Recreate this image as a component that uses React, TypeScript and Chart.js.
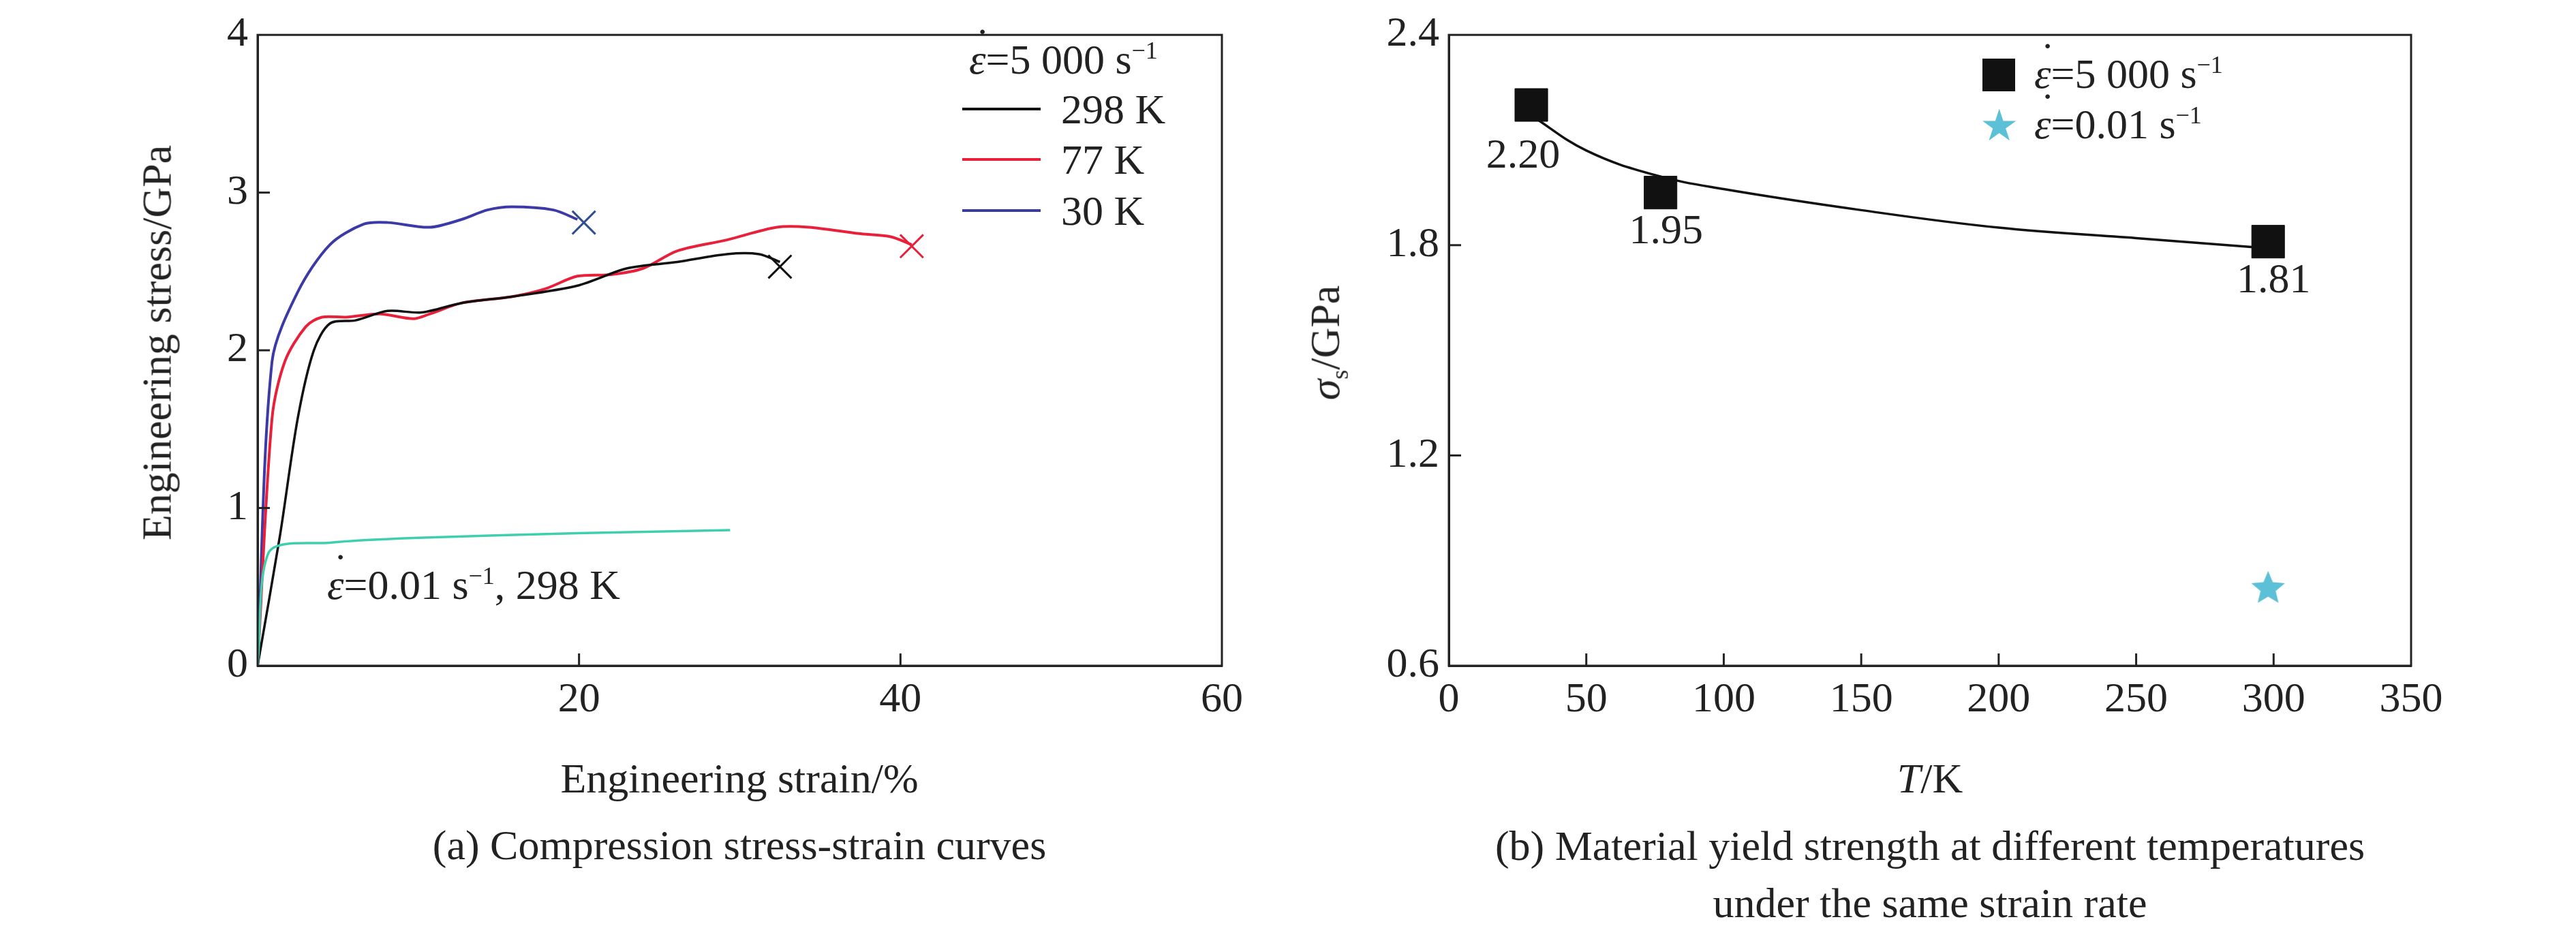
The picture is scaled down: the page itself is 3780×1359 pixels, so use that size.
import React, { useEffect, useRef } from "react";
import { Chart, registerables } from "chart.js";
Chart.register(...registerables);

// Panel (a) data
const strain30K = [0, 0.9, 2.5, 4.5, 6.6, 8.1, 10.7, 12.7, 14.3, 15.8, 18.4, 19.9];
const stress30K = [0, 1.93, 2.37, 2.67, 2.8, 2.81, 2.78, 2.83, 2.89, 2.91, 2.89, 2.83];
const strain77K = [0, 0.9, 1.7, 3, 4, 5.5, 7.6, 9.7, 10.7, 12.7, 15.8, 17.9, 19.9, 22, 24, 26.1, 29.2, 32.3, 34.3, 37.4, 39.4, 40.7];
const stress77K = [0, 1.57, 1.93, 2.15, 2.21, 2.21, 2.23, 2.2, 2.23, 2.3, 2.34, 2.39, 2.47, 2.48, 2.52, 2.63, 2.7, 2.78, 2.78, 2.74, 2.72, 2.67];
const strain298K = [0, 1.4, 2.5, 3.5, 4.5, 6.1, 8.1, 10.2, 12.7, 15.8, 19.9, 23, 26.1, 29.2, 31.2, 32.5];
const stress298K = [0, 0.83, 1.57, 2.0, 2.17, 2.19, 2.25, 2.24, 2.3, 2.34, 2.41, 2.52, 2.56, 2.61, 2.61, 2.56];
const strainQS = [0, 0.7, 4.5, 9.7, 19.9, 29.4];
const stressQS = [0, 0.72, 0.78, 0.81, 0.84, 0.86];
const fractureStrain = [20.3, 40.7, 32.5];
const fractureStress = [2.81, 2.66, 2.53];

// Panel (b) data
const temps = [30, 77, 298];
const yieldDyn = [2.2, 1.95, 1.81];
const yieldLabels = ["2.20", "1.95", "1.81"];
const fitT = [30, 50, 75, 100, 150, 200, 250, 300];
const fitY = [2.17, 2.07, 2.0, 1.96, 1.9, 1.85, 1.82, 1.79];
const quasiT = [298];
const quasiY = [0.82];

const FONT = '"Liberation Serif", "Times New Roman", serif';
const pts = (xs: number[], ys: number[]) => xs.map((x, i) => ({ x, y: ys[i] }));

const frameAndTicks = (skipX: number[], skipY: number[]) => ({
  id: "inward",
  afterDatasetsDraw(chart: any) {
    const { ctx, chartArea: a, scales } = chart;
    ctx.save();
    ctx.strokeStyle = "#222";
    ctx.lineWidth = 3;
    ctx.strokeRect(a.left, a.top, a.right - a.left, a.bottom - a.top);
    scales.x.ticks.forEach((t: any) => {
      if (skipX.includes(t.value)) return;
      const px = scales.x.getPixelForValue(t.value);
      ctx.beginPath(); ctx.moveTo(px, a.bottom); ctx.lineTo(px, a.bottom - 18); ctx.stroke();
    });
    scales.y.ticks.forEach((t: any) => {
      if (skipY.includes(t.value)) return;
      const py = scales.y.getPixelForValue(t.value);
      ctx.beginPath(); ctx.moveTo(a.left, py); ctx.lineTo(a.left + 18, py); ctx.stroke();
    });
    ctx.restore();
  },
});

function makeStar(color: string, r: number) {
  const c = document.createElement("canvas");
  c.width = c.height = r * 2 + 4;
  const g = c.getContext("2d")!;
  g.fillStyle = color;
  g.beginPath();
  for (let i = 0; i < 10; i++) {
    const rad = i % 2 === 0 ? r : r * 0.45;
    const ang = -Math.PI / 2 + (i * Math.PI) / 5;
    const px = r + 2 + rad * Math.cos(ang), py = r + 2 + rad * Math.sin(ang);
    i === 0 ? g.moveTo(px, py) : g.lineTo(px, py);
  }
  g.closePath();
  g.fill();
  return c;
}

const abs = (o: any): React.CSSProperties => ({ position: "absolute", fontFamily: FONT, color: "#222", whiteSpace: "nowrap", ...o });

const EpsDot = () => (
  <span style={{ position: "relative", display: "inline-block" }}>
    <i>ε</i>
    <span style={{ position: "absolute", left: "38%", top: "-0.38em" }}>˙</span>
  </span>
);

export default function App() {
  const refA = useRef<HTMLCanvasElement>(null);
  const refB = useRef<HTMLCanvasElement>(null);

  useEffect(() => {
    const tickFont = { family: FONT, size: 62 };
    const axisCommon = (min: number, max: number, step: number, w: number | null, h: number | null, cb?: any) => ({
      type: "linear",
      min, max,
      grid: { display: false, drawTicks: false },
      border: { display: true, color: "#222", width: 3 },
      ticks: { stepSize: step, font: tickFont, color: "#222", padding: 14, callback: cb },
      afterFit: (s: any) => { if (w !== null) s.width = w; if (h !== null) s.height = h; },
    });
    const chartA = new Chart(refA.current!, {
      type: "scatter",
      data: {
        datasets: [
          { data: pts(strainQS, stressQS), showLine: true, borderColor: "#3fcfae", borderWidth: 3.5, pointRadius: 0, tension: 0.3 },
          { data: pts(strain298K, stress298K), showLine: true, borderColor: "#111", borderWidth: 3.5, pointRadius: 0, tension: 0.3 },
          { data: pts(strain77K, stress77K), showLine: true, borderColor: "#e8203a", borderWidth: 4, pointRadius: 0, tension: 0.3 },
          { data: pts(strain30K, stress30K), showLine: true, borderColor: "#3b3aa6", borderWidth: 4, pointRadius: 0, tension: 0.3 },
          {
            data: pts(fractureStrain, fractureStress), showLine: false, pointStyle: "crossRot", pointRadius: 24,
            borderWidth: 3, pointBorderColor: ["#2f4f8f", "#e8203a", "#111"],
          },
        ] as any,
      },
      options: {
        animation: false, responsive: false, maintainAspectRatio: false,
        layout: { padding: { left: 0, top: 32, right: 107, bottom: 282 } },
        plugins: { legend: { display: false }, tooltip: { enabled: false } },
        scales: {
          x: axisCommon(0, 60, 20, null, 100, (v: number) => (v === 0 ? "" : String(v))) as any,
          y: axisCommon(0, 4, 1, 378, null) as any,
        },
      },
      plugins: [frameAndTicks([0, 60], [0, 4])],
    });

    const star = makeStar("#5cc0d6", 26);
    const labelPlugin = {
      id: "vals",
      afterDatasetsDraw(chart: any) {
        const { ctx, scales } = chart;
        ctx.save();
        ctx.font = `62px ${FONT}`;
        ctx.fillStyle = "#222";
        ctx.textAlign = "center";
        ctx.textBaseline = "middle";
        temps.forEach((t, i) => {
          const px = scales.x.getPixelForValue(t) + (i === 0 ? -12 : 8);
          const py = scales.y.getPixelForValue(yieldDyn[i]) + (i === 0 ? 76 : 58);
          ctx.fillText(yieldLabels[i], px, py);
        });
        ctx.restore();
      },
    };
    const chartB = new Chart(refB.current!, {
      type: "scatter",
      data: {
        datasets: [
          { data: pts(fitT, fitY), showLine: true, borderColor: "#111", borderWidth: 3.5, pointRadius: 0, tension: 0.4 },
          { data: pts(temps, yieldDyn), pointStyle: "rect", pointRadius: 34, backgroundColor: "#111", borderColor: "#111" },
          { data: pts(quasiT, quasiY), pointStyle: star, pointRadius: 26 },
        ] as any,
      },
      options: {
        animation: false, responsive: false, maintainAspectRatio: false,
        layout: { padding: { left: 0, top: 32, right: 1880 - 1638, bottom: 282 } },
        plugins: { legend: { display: false }, tooltip: { enabled: false } },
        scales: {
          x: axisCommon(0, 350, 50, null, 100) as any,
          y: axisCommon(0.6, 2.4, 0.6, 226, null, (v: number) => v.toFixed(1)) as any,
        },
      },
      plugins: [frameAndTicks([0, 350], [0.6, 2.4]), labelPlugin],
    });
    let alive = true;
    if ((document as any).fonts) {
      (document as any).fonts.load('62px "Liberation Serif"').then(() => {
        if (alive) { chartA.update(); chartB.update(); }
      });
    }
    return () => { alive = false; chartA.destroy(); chartB.destroy(); };
  }, []);

  const big = 62;
  const sup = <sup style={{ fontSize: 36 }}>−1</sup>;
  return (
    <div style={{ position: "absolute", left: 0, top: 0, width: 3780, height: 1359, background: "#fff", overflow: "hidden" }}>
      <canvas ref={refA} width={1900} height={1359} style={{ position: "absolute", left: 0, top: 0, width: 1900, height: 1359 }} />
      <canvas ref={refB} width={1880} height={1359} style={{ position: "absolute", left: 1900, top: 0, width: 1880, height: 1359 }} />

      {/* Panel a texts */}
      <div style={abs({ left: 230, top: 503, fontSize: big, transform: "translate(-50%,-50%) rotate(-90deg)" })}>Engineering stress/GPa</div>
      <div style={abs({ left: 1085, top: 1142, fontSize: big, transform: "translate(-50%,-50%)" })}>Engineering strain/%</div>
      <div style={abs({ left: 1085, top: 1240, fontSize: big, transform: "translate(-50%,-50%)" })}>(a) Compression stress-strain curves</div>
      <div style={abs({ left: 1422, top: 87, fontSize: big, transform: "translateY(-50%)" })}><EpsDot />=5 000 s{sup}</div>
      {[["298 K", "#111", 160], ["77 K", "#e8203a", 234], ["30 K", "#3b3aa6", 309]].map(([t, c, y]) => (
        <div key={t as string}>
          <div style={{ position: "absolute", left: 1412, top: (y as number) - 2, width: 115, height: 4, background: c as string }} />
          <div style={abs({ left: 1557, top: y, fontSize: big, transform: "translateY(-50%)" })}>{t}</div>
        </div>
      ))}
      <div style={abs({ left: 480, top: 858, fontSize: big, transform: "translateY(-50%)" })}><EpsDot />=0.01 s{sup}, 298 K</div>

      {/* Panel b texts */}
      <div style={abs({ left: 1948, top: 503, fontSize: big, transform: "translate(-50%,-50%) rotate(-90deg)" })}><i>σ</i><sub style={{ fontSize: 36 }}>s</sub>/GPa</div>
      <div style={abs({ left: 2832, top: 1142, fontSize: big, transform: "translate(-50%,-50%)" })}><i>T</i>/K</div>
      <div style={abs({ left: 2832, top: 1283, fontSize: big, textAlign: "center", lineHeight: "84px", transform: "translate(-50%,-50%)" })}>(b) Material yield strength at different temperatures<br />under the same strain rate</div>
      <div style={{ position: "absolute", left: 2933 - 24, top: 110 - 24, width: 48, height: 48, background: "#111" }} />
      <div style={abs({ left: 2985, top: 108, fontSize: big, transform: "translateY(-50%)" })}><EpsDot />=5 000 s{sup}</div>
      <div style={abs({ left: 2933, top: 184, fontSize: 64, color: "#5cc0d6", transform: "translate(-50%,-50%)" })}>★</div>
      <div style={abs({ left: 2985, top: 182, fontSize: big, transform: "translateY(-50%)" })}><EpsDot />=0.01 s{sup}</div>
    </div>
  );
}
